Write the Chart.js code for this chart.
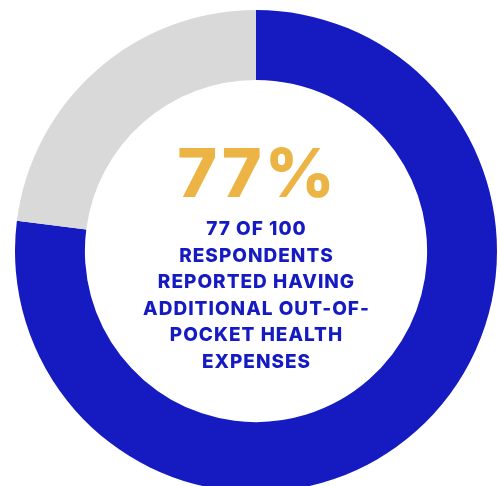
<!DOCTYPE html>
<html>
<head>
<meta charset="utf-8">
<script src="https://cdn.jsdelivr.net/npm/chart.js@4"></script>
<style>
  html, body { margin: 0; padding: 0; background: #fff; overflow: hidden; width: 500px; height: 486px; }
  #wrap { position: absolute; left: 15px; top: 10px; width: 482px; height: 482px; }
</style>
</head>
<body>
<div id="wrap"><canvas id="myChart"></canvas></div>
<script>
var labels = ["Had additional out-of-pocket expenses", "Did not"];
var values = [77, 23];
var colors = ["#151bc1", "#d9d9d9"];
var bigText = "77%";
var subLines = ["77 OF 100", "RESPONDENTS", "REPORTED HAVING", "ADDITIONAL OUT-OF-", "POCKET HEALTH", "EXPENSES"];

var centerText = {
    id: 'centerText',
    afterDraw: function(chart) {
        var ctx = chart.ctx;
        var arc = chart.getDatasetMeta(0).data[0];
        var cx = arc.x, cy = arc.y;
        ctx.save();
        ctx.textAlign = 'center';
        ctx.textBaseline = 'alphabetic';
        ctx.fillStyle = '#ecb444';
        ctx.font = '800 68px Inter, sans-serif';
        ctx.letterSpacing = '3px';
        ctx.fillText(bigText, cx + 1.5, cy - 54);
        ctx.fillStyle = '#151bc1';
        ctx.font = '800 19px Inter, sans-serif';
        ctx.letterSpacing = '1px';
        for (var i = 0; i < subLines.length; i++) {
            ctx.fillText(subLines[i], cx + 0.5, cy - 16 + i * 26.5);
        }
        ctx.restore();
    }
};

var ctx = document.getElementById("myChart").getContext('2d');
var myChart = new Chart(ctx, {
    type: 'doughnut',
    data: {
        labels: labels,
        datasets: [{
            backgroundColor: colors,
            borderWidth: 0,
            data: values
        }]
    },
    options: {
        responsive: true,
        maintainAspectRatio: false,
        animation: false,
        cutout: '71%',
        plugins: {
            legend: { display: false },
            tooltip: { enabled: false }
        }
    },
    plugins: [centerText]
});
</script>
</body>
</html>
